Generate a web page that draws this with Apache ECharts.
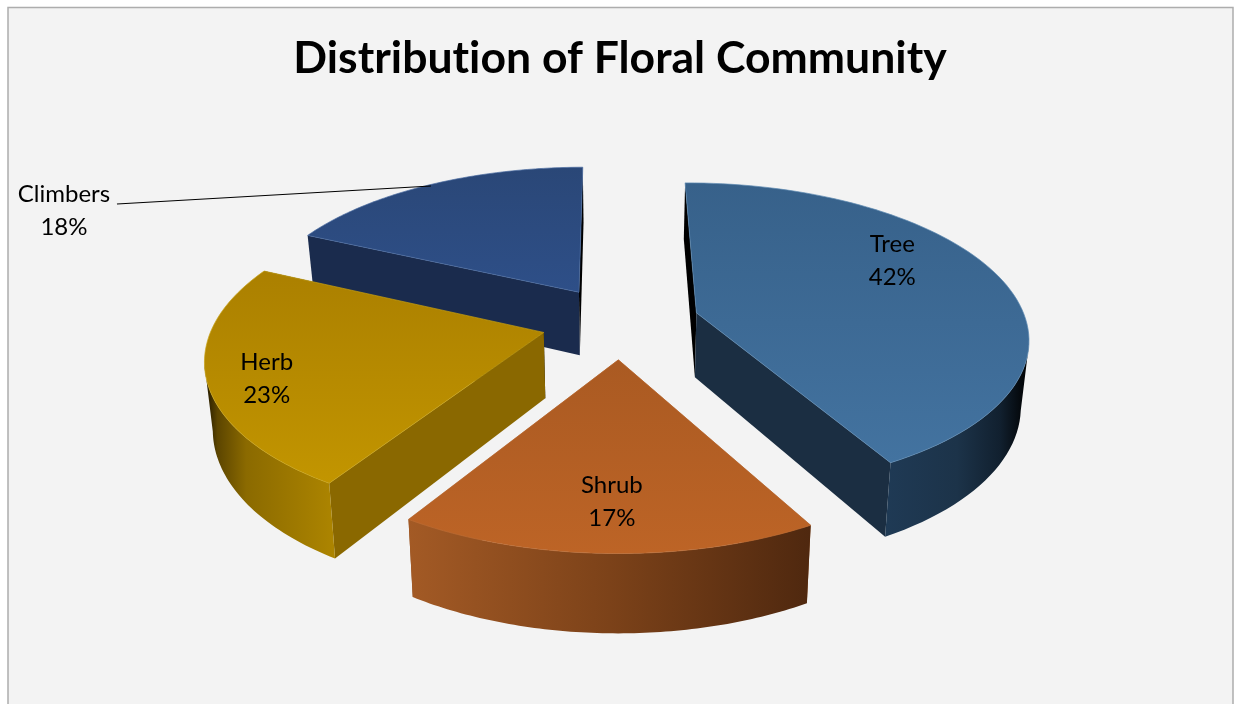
<!DOCTYPE html>
<html>
<head>
<meta charset="utf-8">
<style>html,body{margin:0;padding:0;background:#fff;overflow:hidden}#c{width:1235px;height:704px}</style>
<script src="https://cdn.jsdelivr.net/npm/echarts@6/dist/echarts.min.js"></script>
</head>
<body>
<div id="c"></div>
<script>
const titleText = 'Distribution of Floral Community';
const categories = ['Tree', 'Shrub', 'Herb', 'Climbers'];
const percents = [42, 17, 23, 18];

// Projection of the exploded, tilted pie
const CX = 620.5, CY = 322, RX = 330, RY = 152, PERSP = 0.15, EXPLODE = 0.24, DEPTH = 65, BOTTOM_SHRINK = 0.98, START = -0.3;
const D2R = Math.PI / 180;
const total = percents.reduce((a, b) => a + b, 0);
const FONT = 'Lato';

const looks = [
  { top: ['#37618a', '#4373a0'], edge: '#5d8ab2', inner: ['#000000', '#1b2e42'], outer: [[0, '#1f3a55'], [0.5, '#1c3349'], [0.8, '#11202f'], [1, '#000000']], z: 2 },
  { top: ['#aa5a22', '#bd6426'], edge: '#bd6d35', inner: ['#8f4c1d', '#8f4c1d'], outer: [[0, '#a35a25'], [0.5, '#7c4219'], [1, '#4f280f']], z: 4 },
  { top: ['#ab8000', '#c29500'], edge: '#c9a318', inner: ['#8a6800', '#000000'], outer: [[0, '#1c1400'], [0.1, '#5c4500'], [0.32, '#8b6a00'], [1, '#ad8500']], z: 3 },
  { top: ['#2a4777', '#2e4f88'], edge: '#4a6ba0', inner: ['#1a2b4d', '#000000'], outer: [[0, '#1a2b4d'], [1, '#1a2b4d']], z: 1 }
];
// Label placement: radial fraction and share of the slice's sweep; Climbers sits outside with a leader
const labelPlace = [
  { r: 0.743, f: 0.40 },
  { r: 0.765, f: 0.495 },
  { r: 0.835, f: 0.46 },
  { r: 0.988, f: 0.5, dx: -367, dy: 24.5, lx: -314, ly: 18 }
];

function project(u, v, z) {
  const w = 1 + PERSP * v;
  const s = z ? BOTTOM_SHRINK : 1;
  return [CX + s * RX * u / w, CY - RY * v / w + (z ? DEPTH / w : 0)];
}

function stops(list) {
  return list.map(s => ({ offset: s[0], color: s[1] }));
}

function renderSlice(params, api) {
  const i = params.dataIndex;
  const val = api.value(0);
  let before = 0;
  for (let j = 0; j < i; j++) before += percents[j];
  const a0 = START + before / total * 360, a1 = START + (before + val) / total * 360, mid = (a0 + a1) / 2;
  const ou = EXPLODE * Math.sin(mid * D2R), ov = EXPLODE * Math.cos(mid * D2R);
  const pt = (deg, r, z) => project(ou + r * Math.sin(deg * D2R), ov + r * Math.cos(deg * D2R), z);
  const look = looks[i];
  const z2 = look.z * 10;

  // the full rim's left- and right-most angles bound the front-facing wall
  let aRight = 0, aLeft = 0, xMax = -Infinity, xMin = Infinity;
  for (let a = 0; a < 360; a += 0.5) {
    const x = pt(a, 1, 0)[0];
    if (x > xMax) { xMax = x; aRight = a; }
    if (x < xMin) { xMin = x; aLeft = a; }
  }

  const rim = [], visible = [];
  for (let a = a0; a <= a1 + 0.001; a += (a1 - a0) / 80) {
    rim.push(pt(a, 1, 0));
    if (a >= aRight && a <= aLeft) visible.push(a);
  }
  const children = [];
  const poly = (points, fill, z, stroke) => children.push({
    type: 'polygon', z2: z2 + z,
    shape: { points },
    style: { fill, stroke: stroke || null, lineWidth: stroke ? 0.7 : 0 }
  });

  // straight cut walls: a back-facing (black) wall is drawn beneath the front one
  const wallZ = c => (c === '#000000' ? 0 : 1);
  poly([pt(a0, 0, 0), pt(a0, 1, 0), pt(a0, 1, 1), pt(a0, 0, 1)], look.inner[0], wallZ(look.inner[0]));
  poly([pt(a1, 0, 0), pt(a1, 1, 0), pt(a1, 1, 1), pt(a1, 0, 1)], look.inner[1], wallZ(look.inner[1]));
  // curved outer wall, front-facing part only
  if (visible.length > 1) {
    const up = visible.map(a => pt(a, 1, 0));
    const down = visible.map(a => pt(a, 1, 1)).reverse();
    poly(up.concat(down), new echarts.graphic.LinearGradient(0, 0, 1, 0, stops(look.outer)), 2);
  }
  // top face
  poly([pt(a0, 0, 0)].concat(rim),
    new echarts.graphic.LinearGradient(0, 0, 0, 1, stops([[0, look.top[0]], [1, look.top[1]]])),
    3, look.edge);

  // label
  const lp = labelPlace[i];
  const anchor = pt(a0 + (a1 - a0) * lp.f, lp.r, 0);
  const tx = anchor[0] + (lp.dx || 0), ty = anchor[1] + (lp.dy || 0);
  if (lp.lx !== undefined) {
    children.push({
      type: 'line', z2: 100,
      shape: { x1: anchor[0] + lp.lx, y1: anchor[1] + lp.ly, x2: anchor[0], y2: anchor[1] },
      style: { stroke: '#000', lineWidth: 1.2 }
    });
  }
  children.push({
    type: 'text', z2: 101, x: tx, y: ty,
    style: {
      text: categories[i] + '\n' + val + '%',
      fill: '#000', font: '24px ' + FONT, lineHeight: 33,
      align: 'center', verticalAlign: 'middle'
    }
  });
  return { type: 'group', children };
}

const option = {
  animation: false,
  backgroundColor: '#ffffff',
  title: {
    text: titleText, left: 615, top: 31.5, textAlign: 'center',
    textStyle: { fontFamily: FONT, fontWeight: 'bold', fontSize: 44.5, color: '#000' }
  },
  graphic: [{
    type: 'rect', z: -10, silent: true,
    shape: { x: 8, y: 7.5, width: 1225, height: 720 },
    style: { fill: '#f3f3f3', stroke: '#adadad', lineWidth: 1.5 }
  }],
  tooltip: { show: false },
  series: [{
    type: 'custom',
    coordinateSystem: 'none',
    renderItem: renderSlice,
    data: percents.map((v, i) => ({ name: categories[i], value: [v] }))
  }]
};

const chart = echarts.init(document.getElementById('c'), null, { renderer: 'canvas' });
chart.setOption(option);
// the canvas exists only after the first paint; turn off the title's "ti" ligature and paint again
const canvasEl = document.querySelector('#c canvas');
if (canvasEl) canvasEl.getContext('2d').letterSpacing = '0.01px';
chart.clear();
chart.setOption(option);
</script>
</body>
</html>
